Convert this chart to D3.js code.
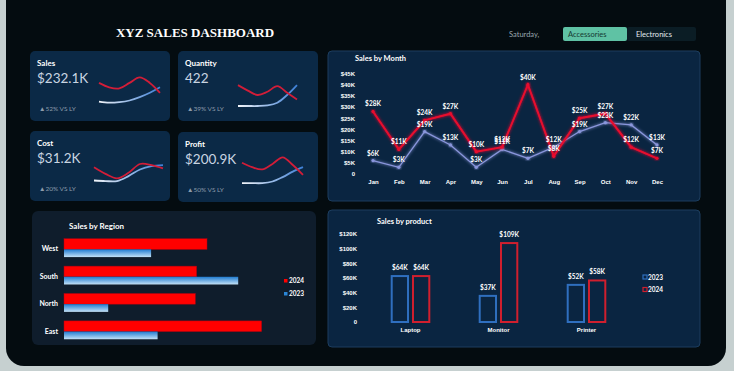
<!DOCTYPE html>
<html>
<head>
<meta charset="utf-8">
<script src="https://cdn.jsdelivr.net/npm/d3@7"></script>
<style>
  body { margin: 0; background: #c6d0d0; }
  svg { display: block; font-family: Lato, "Open Sans", sans-serif; }
</style>
</head>
<body>
<svg id="dash" width="734" height="371"></svg>
<script>
// ---- data ----
var months = ["Jan", "Feb", "Mar", "Apr", "May", "Jun", "Jul", "Aug", "Sep", "Oct", "Nov", "Dec"];
var sales2024 = [28, 11, 24, 27, 10, 12, 40, 8, 25, 27, 12, 7];
var sales2023 = [6, 3, 19, 13, 3, 11, 7, 12, 19, 23, 22, 13];
var monthTicks = [0, 5, 10, 15, 20, 25, 30, 35, 40, 45];

var regions = ["West", "South", "North", "East"];
var region2024 = [55, 51, 50.5, 76];
var region2023 = [33.5, 67, 17, 36];

var products = ["Laptop", "Monitor", "Printer"];
var product2023 = [64, 37, 52];
var product2024 = [64, 109, 58];
var productTicks = [0, 20, 40, 60, 80, 100, 120];

var kpiNames = ["Sales", "Quantity", "Cost", "Profit"];
var kpiValues = ["$232.1K", "422", "$31.2K", "$200.9K"];
var kpiChange = ["52%", "39%", "20%", "50%"];
// sparkline shapes (this year / last year)
var sparkRed = [
  [21, 17, 16, 21, 26, 21, 12],
  [19, 14, 10, 13, 18, 12, 6],
  [17, 11, 7, 12, 20, 19, 16],
  [22, 18, 16, 21, 27, 20, 11]
];
var sparkBlue = [
  [4, 3, 3.5, 5, 8, 12, 17],
  [0, 0, 0, 0.5, 3, 10, 19],
  [5, 4.5, 4.5, 9, 15, 18, 19],
  [3.6, 3.5, 3.5, 5, 9, 14, 18]
];

var svg = d3.select("#dash");
var RED = "#e8112d";

document.addEventListener("DOMContentLoaded", () => {
  drawFrame();
  drawKpis();
  drawMonth();
  drawRegion();
  drawProduct();
});

function drawFrame() {
  var defs = svg.append("defs");

  var glow = defs.append("filter").attr("id", "glow")
    .attr("x", "-20%").attr("y", "-20%").attr("width", "140%").attr("height", "140%");
  glow.append("feGaussianBlur").attr("stdDeviation", 1.6).attr("result", "b");
  var m = glow.append("feMerge");
  m.append("feMergeNode").attr("in", "b");
  m.append("feMergeNode").attr("in", "SourceGraphic");

  var g1 = defs.append("linearGradient").attr("id", "sparkBlue");
  g1.append("stop").attr("offset", "0%").attr("stop-color", "#f2f4f8");
  g1.append("stop").attr("offset", "100%").attr("stop-color", "#3d7fd6");

  var g2 = defs.append("linearGradient").attr("id", "barBlue")
    .attr("x1", 0).attr("y1", 0).attr("x2", 0).attr("y2", 1);
  g2.append("stop").attr("offset", "0%").attr("stop-color", "#1f7bd0");
  g2.append("stop").attr("offset", "100%").attr("stop-color", "#c4e2f7");

  svg.append("rect").attr("x", 6).attr("y", -20).attr("width", 720).attr("height", 386)
    .attr("rx", 18).attr("fill", "#040c10");

  svg.append("text").attr("x", 195).attr("y", 37).attr("text-anchor", "middle")
    .attr("font-family", "Liberation Serif, serif").attr("font-weight", "bold")
    .attr("font-size", 13).attr("fill", "#fff").text("XYZ SALES DASHBOARD");

  svg.append("text").attr("x", 509).attr("y", 37).attr("font-size", 7.5)
    .attr("fill", "#9aa6ad").text("Saturday,");

  svg.append("rect").attr("x", 627).attr("y", 27).attr("width", 69).attr("height", 14)
    .attr("fill", "#0b1d25").attr("rx", 2);
  svg.append("rect").attr("x", 563).attr("y", 27).attr("width", 64).attr("height", 14)
    .attr("fill", "#5fc2a4").attr("rx", 2);
  svg.append("text").attr("x", 568).attr("y", 37).attr("font-size", 7.5)
    .attr("fill", "#163a31").text("Accessories");
  svg.append("text").attr("x", 636).attr("y", 37).attr("font-size", 7.5)
    .attr("fill", "#e4eaee").text("Electronics");
}

function drawKpis() {
  var cards = [
    { x: 30, y: 51, sx: 99, ex: 160 },
    { x: 178, y: 51, sx: 238, ex: 297 },
    { x: 30, y: 131, sx: 94, ex: 163 },
    { x: 178, y: 132, sx: 242, ex: 303 }
  ];

  cards.forEach((c, i) => {
    var g = svg.append("g");
    g.append("rect").attr("x", c.x).attr("y", c.y).attr("width", 140).attr("height", 70)
      .attr("rx", 5).attr("fill", "#0b2946");
    g.append("text").attr("x", c.x + 7).attr("y", c.y + 15).attr("font-size", 8)
      .attr("font-weight", "bold").attr("fill", "#fff").text(kpiNames[i]);
    g.append("text").attr("x", c.x + 7).attr("y", c.y + 32).attr("font-size", 13.5)
      .attr("fill", "#c9d5e2").text(kpiValues[i]);
    g.append("text").attr("x", c.x + 9).attr("y", c.y + 60).attr("font-size", 6.5)
      .attr("fill", "#8d9cab").text("\u25B2" + kpiChange[i] + " VS LY");

    var x = d3.scaleLinear().domain([0, sparkRed[i].length - 1]).range([c.sx, c.ex]);
    var y = d3.scaleLinear().domain([0, 30]).range([c.y + 55, c.y + 22]);
    var line = d3.line().x((d, j) => x(j)).y(d => y(d)).curve(d3.curveCatmullRom);

    g.append("path").attr("d", line(sparkBlue[i])).attr("fill", "none")
      .attr("stroke", "url(#sparkBlue)").attr("stroke-width", 1.8);
    g.append("path").attr("d", line(sparkRed[i])).attr("fill", "none")
      .attr("stroke", "#d21d38").attr("stroke-width", 1.8);
  });
}

function drawMonth() {
  var g = svg.append("g");
  g.append("rect").attr("x", 328).attr("y", 51).attr("width", 372).attr("height", 150)
    .attr("rx", 4).attr("fill", "#0a2541").attr("stroke", "#1c3d5e");
  g.append("text").attr("x", 355).attr("y", 61).attr("font-size", 7.5)
    .attr("font-weight", "bold").attr("fill", "#fff").text("Sales by Month");

  var x = d3.scalePoint().domain(months).range([373, 657]);
  var y = d3.scaleLinear().domain([0, 45]).range([174, 73.5]);

  var yAxis = d3.axisLeft(y).tickValues(monthTicks).tickSize(0)
    .tickFormat(d => d === 0 ? "0" : "$" + d + "K");
  g.append("g").attr("transform", "translate(358,0)").call(yAxis)
    .call(a => a.select(".domain").remove())
    .selectAll("text").attr("fill", "#fff").attr("font-size", 6).attr("font-weight", "bold");

  var xAxis = d3.axisBottom(x).tickSize(0);
  g.append("g").attr("transform", "translate(0,177)").call(xAxis)
    .call(a => a.select(".domain").remove())
    .selectAll("text").attr("fill", "#fff").attr("font-size", 6).attr("font-weight", "bold");

  var line = d3.line().x((d, i) => x(months[i])).y(d => y(d));

  var series = [
    { data: sales2023, color: "#8a96dc", w: 1.3 },
    { data: sales2024, color: RED, w: 2 }
  ];
  series.forEach(s => {
    g.append("path").attr("d", line(s.data)).attr("fill", "none")
      .attr("stroke", s.color).attr("stroke-width", s.w).attr("filter", "url(#glow)");
    g.selectAll(null).data(s.data).join("circle")
      .attr("cx", (d, i) => x(months[i])).attr("cy", d => y(d)).attr("r", 1.6)
      .attr("fill", s.color).attr("filter", "url(#glow)");
  });

  [sales2023, sales2024].forEach(data => {
    g.selectAll(null).data(data).join("text")
      .attr("x", (d, i) => x(months[i])).attr("y", d => y(d) - 5)
      .attr("text-anchor", "middle").attr("font-size", 6.5).attr("font-weight", "bold")
      .attr("fill", "#fff").text(d => "$" + d + "K");
  });
}

function drawRegion() {
  var g = svg.append("g");
  g.append("rect").attr("x", 32).attr("y", 211).attr("width", 284).attr("height", 134)
    .attr("rx", 6).attr("fill", "#0f1d2c");
  g.append("text").attr("x", 69).attr("y", 229).attr("font-size", 8)
    .attr("font-weight", "bold").attr("fill", "#fff").text("Sales by Region");

  var y = d3.scaleBand().domain(regions).range([236, 342]).paddingInner(0.33).paddingOuter(0.1);
  var x = d3.scaleLinear().domain([0, 80]).range([64, 272]);
  var h24 = y.bandwidth() * 0.58;

  g.selectAll(null).data(region2024).join("rect")
    .attr("x", x(0)).attr("y", (d, i) => y(regions[i]))
    .attr("width", d => x(d) - x(0)).attr("height", h24).attr("fill", "#ff0000")
    .attr("stroke", "#b00010").attr("stroke-width", 0.5);
  g.selectAll(null).data(region2023).join("rect")
    .attr("x", x(0)).attr("y", (d, i) => y(regions[i]) + h24)
    .attr("width", d => x(d) - x(0)).attr("height", y.bandwidth() - h24)
    .attr("fill", "url(#barBlue)");

  g.selectAll(null).data(regions).join("text")
    .attr("x", 58).attr("y", d => y(d) + h24 + 2).attr("text-anchor", "end")
    .attr("font-size", 7).attr("font-weight", "bold").attr("fill", "#fff").text(d => d);

  var leg = [{ t: "2024", c: "#ff0000" }, { t: "2023", c: "#2a86d6" }];
  leg.forEach((l, i) => {
    g.append("rect").attr("x", 284).attr("y", 279 + i * 13).attr("width", 3.5).attr("height", 3.5).attr("fill", l.c);
    g.append("text").attr("x", 289).attr("y", 283 + i * 13).attr("font-size", 6.5)
      .attr("font-weight", "bold").attr("fill", "#fff").text(l.t);
  });
}

function drawProduct() {
  var g = svg.append("g");
  g.append("rect").attr("x", 328).attr("y", 210).attr("width", 372).attr("height", 137)
    .attr("rx", 4).attr("fill", "#0a2541").attr("stroke", "#1c3d5e");
  g.append("text").attr("x", 377).attr("y", 224).attr("font-size", 7.5)
    .attr("font-weight", "bold").attr("fill", "#fff").text("Sales by product");

  var y = d3.scaleLinear().domain([0, 120]).range([322, 234]);
  var x = d3.scaleBand().domain(products).range([366.5, 630.5]).paddingInner(0.55).paddingOuter(0.275);
  var xs = d3.scaleBand().domain(["2023", "2024"]).range([0, x.bandwidth()]).paddingInner(0.14);

  var yAxis = d3.axisLeft(y).tickValues(productTicks).tickSize(0)
    .tickFormat(d => d === 0 ? "0" : "$" + d + "K");
  g.append("g").attr("transform", "translate(360,0)").call(yAxis)
    .call(a => a.select(".domain").remove())
    .selectAll("text").attr("fill", "#fff").attr("font-size", 6).attr("font-weight", "bold");

  var xAxis = d3.axisBottom(x).tickSize(0);
  g.append("g").attr("transform", "translate(0,325)").call(xAxis)
    .call(a => a.select(".domain").remove())
    .selectAll("text").attr("fill", "#fff").attr("font-size", 6).attr("font-weight", "bold");

  var series = [
    { key: "2023", data: product2023, color: "#2f6fbf" },
    { key: "2024", data: product2024, color: "#d01f2e" }
  ];
  series.forEach(s => {
    g.selectAll(null).data(s.data).join("rect")
      .attr("x", (d, i) => x(products[i]) + xs(s.key) + 1)
      .attr("y", d => y(d) + 1)
      .attr("width", xs.bandwidth() - 2)
      .attr("height", d => y(0) - y(d) - 1)
      .attr("fill", "none").attr("stroke", s.color).attr("stroke-width", 2);
    g.selectAll(null).data(s.data).join("text")
      .attr("x", (d, i) => x(products[i]) + xs(s.key) + xs.bandwidth() / 2)
      .attr("y", d => y(d) - 5).attr("text-anchor", "middle")
      .attr("font-size", 6.5).attr("font-weight", "bold").attr("fill", "#fff")
      .text(d => "$" + d + "K");
  });

  series.forEach((s, i) => {
    g.append("rect").attr("x", 643).attr("y", 275 + i * 12.5).attr("width", 4).attr("height", 4)
      .attr("fill", "none").attr("stroke", s.color).attr("stroke-width", 1.2);
    g.append("text").attr("x", 648).attr("y", 279.5 + i * 12.5).attr("font-size", 6.5)
      .attr("font-weight", "bold").attr("fill", "#fff").text(s.key);
  });
}
</script>
</body>
</html>
